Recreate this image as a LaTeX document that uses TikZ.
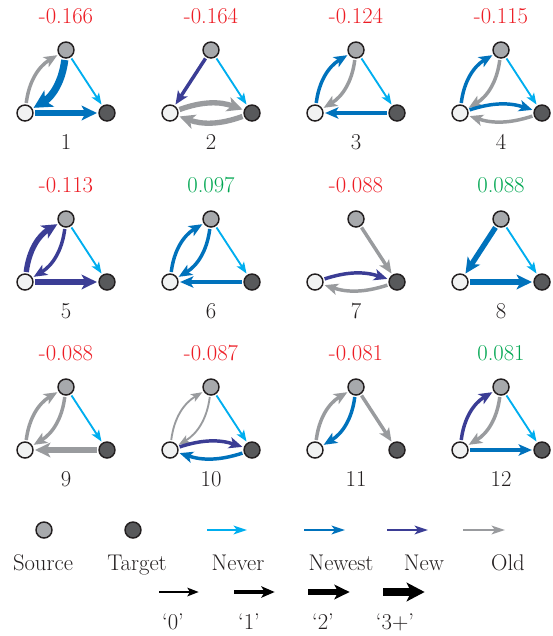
\documentclass[tikz,border=0pt]{standalone}
\usetikzlibrary{arrows.meta}
\definecolor{never}{HTML}{00AEEF}
\definecolor{newest}{HTML}{0072BC}
\definecolor{new}{HTML}{3B3D95}
\definecolor{old}{HTML}{999B9E}
\definecolor{srcfill}{HTML}{A7A9AC}
\definecolor{tgtfill}{HTML}{58595B}
\definecolor{whtfill}{HTML}{F1F2F2}
\definecolor{outl}{HTML}{231F20}
\definecolor{valred}{HTML}{ED1C24}
\definecolor{valgreen}{HTML}{00A651}
\definecolor{txt}{HTML}{231F20}
\newcommand\motif[6]{%
  \node[srcnode] (S#1) at (#2,#3) {};
  \node[whtnode] (W#1) at ({#2-41},{#3+63}) {};
  \node[tgtnode] (T#1) at ({#2+41},{#3+63}) {};
  \node[valtxt,text=#5] (V#1) at (#2,{#3-27}) {#4};
  \node[lbl] (L#1) at (#2,{#3+99}) {#6};
}
\begin{document}
\begin{tikzpicture}[x=0.75pt,y=-0.75pt,
  basenode/.style={circle,draw=outl,line width=1.1pt,minimum size=12pt,inner sep=0pt},
  srcnode/.style={basenode,fill=srcfill},
  tgtnode/.style={basenode,fill=tgtfill},
  whtnode/.style={basenode,fill=whtfill},
  valtxt/.style={font=\fontsize{17}{20}\selectfont,inner sep=0pt,anchor=base},
  lbl/.style={font=\fontsize{17}{20}\selectfont,text=txt,inner sep=0pt,anchor=base},
  E0/.style={line width=1.4pt,shorten <=1pt,shorten >=1pt,-{Stealth[length=8.5pt,width=6.5pt,inset=2pt]}},
  E1/.style={line width=2.6pt,shorten <=1pt,shorten >=1pt,-{Stealth[length=10pt,width=8.5pt,inset=2.5pt]}},
  E2/.style={line width=4pt,shorten <=1pt,shorten >=1pt,-{Stealth[length=11.5pt,width=11pt,inset=3pt]}},
  E3/.style={line width=5.4pt,shorten <=1pt,shorten >=1pt,-{Stealth[length=13.5pt,width=14pt,inset=3.5pt]}},
  EL/.style={line width=2pt,-{Stealth[length=10pt,width=6.5pt,inset=2.5pt]}},
  bl/.style={bend left=26},
]
\useasboundingbox (0,0) rectangle (553,636);

% ---- motifs
\motif{1}{66}{50}{-0.166}{valred}{1}
\motif{2}{211}{50}{-0.164}{valred}{2}
\motif{3}{356}{50}{-0.124}{valred}{3}
\motif{4}{501}{50}{-0.115}{valred}{4}
\motif{5}{66}{219}{-0.113}{valred}{5}
\motif{6}{211}{219}{0.097}{valgreen}{6}
\motif{7}{356}{219}{-0.088}{valred}{7}
\motif{8}{501}{219}{0.088}{valgreen}{8}
\motif{9}{66}{387}{-0.088}{valred}{9}
\motif{10}{211}{387}{-0.087}{valred}{10}
\motif{11}{356}{387}{-0.081}{valred}{11}
\motif{12}{501}{387}{0.081}{valgreen}{12}

% 1
\draw[old,E1] (W1) to[bl] (S1);
\draw[newest,E3] (S1) to[bl] (W1);
\draw[never,E0] (S1) -- (T1);
\draw[newest,E2] (W1) -- (T1);
% 2
\draw[new,E1] (S2) -- (W2);
\draw[never,E0] (S2) -- (T2);
\draw[old,E2] (W2) to[bend left=20] (T2);
\draw[old,E2] (T2) to[bend left=20] (W2);
% 3
\draw[newest,E1] (W3) to[bl] (S3);
\draw[old,E1] (S3) to[bl] (W3);
\draw[never,E0] (S3) -- (T3);
\draw[newest,E1] (T3) -- (W3);
% 4
\draw[newest,E1] (W4) to[bl] (S4);
\draw[old,E1] (S4) to[bl] (W4);
\draw[never,E0] (S4) -- (T4);
\draw[newest,E1] (W4) to[bend left=18] (T4);
\draw[old,E1] (T4) to[bend left=18] (W4);
% 5
\draw[new,E2] (W5) to[bl] (S5);
\draw[new,E1] (S5) to[bl] (W5);
\draw[never,E0] (S5) -- (T5);
\draw[new,E2] (W5) -- (T5);
% 6
\draw[newest,E1] (W6) to[bl] (S6);
\draw[newest,E1] (S6) to[bl] (W6);
\draw[never,E0] (S6) -- (T6);
\draw[newest,E1] (T6) -- (W6);
% 7
\draw[old,E1] (S7) -- (T7);
\draw[new,E1] (W7) to[bend left=18] (T7);
\draw[old,E1] (T7) to[bend left=18] (W7);
% 8
\draw[newest,E2] (S8) -- (W8);
\draw[never,E0] (S8) -- (T8);
\draw[newest,E2] (W8) -- (T8);
% 9
\draw[old,E1] (W9) to[bl] (S9);
\draw[old,E1] (S9) to[bl] (W9);
\draw[never,E0] (S9) -- (T9);
\draw[old,E2] (T9) -- (W9);
% 10
\draw[old,E0] (W10) to[bl] (S10);
\draw[old,E0] (S10) to[bl] (W10);
\draw[never,E0] (S10) -- (T10);
\draw[new,E1] (W10) to[bend left=18] (T10);
\draw[newest,E1] (T10) to[bend left=18] (W10);
% 11
\draw[old,E1] (W11) to[bl] (S11);
\draw[newest,E1] (S11) to[bl] (W11);
\draw[old,E1] (S11) -- (T11);
% 12
\draw[new,E1] (W12) to[bl] (S12);
\draw[old,E1] (S12) to[bl] (W12);
\draw[never,E0] (S12) -- (T12);
\draw[newest,E1] (W12) -- (T12);

% ---- legend: node kinds and colours
\node[srcnode] (LS) at (44,530) {};
\node[lbl] (LSt) at (43,570) {Source};
\node[tgtnode] (LT) at (133,530) {};
\node[lbl] (LTt) at (137,570) {Target};
\coordinate (na) at (207,530); \coordinate (nb) at (247,530);
\draw[never,EL] (na) -- (nb);
\node[lbl] (LNv) at (238,570) {Never};
\coordinate (ta) at (304,530); \coordinate (tb) at (345,530);
\draw[newest,EL] (ta) -- (tb);
\node[lbl] (LNt) at (341,570) {Newest};
\coordinate (wa) at (387,530); \coordinate (wb) at (428,530);
\draw[new,EL] (wa) -- (wb);
\node[lbl] (LNw) at (424,570) {New};
\coordinate (oa) at (463,530); \coordinate (ob) at (505,530);
\draw[old,EL] (oa) -- (ob);
\node[lbl] (LOd) at (508,570) {Old};

% ---- legend: widths
\coordinate (k0a) at (158,592); \coordinate (k0b) at (200,592);
\draw[black,E0] (k0a) -- (k0b);
\node[lbl] (K0) at (173,629) {`0'};
\coordinate (k1a) at (233,592); \coordinate (k1b) at (276,592);
\draw[black,E1] (k1a) -- (k1b);
\node[lbl] (K1) at (249,629) {`1'};
\coordinate (k2a) at (307,592); \coordinate (k2b) at (351,592);
\draw[black,E2] (k2a) -- (k2b);
\node[lbl] (K2) at (323,629) {`2'};
\coordinate (k3a) at (382,592); \coordinate (k3b) at (426,592);
\draw[black,E3] (k3a) -- (k3b);
\node[lbl] (K3) at (395,629) {`3+'};
\end{tikzpicture}
\end{document}
